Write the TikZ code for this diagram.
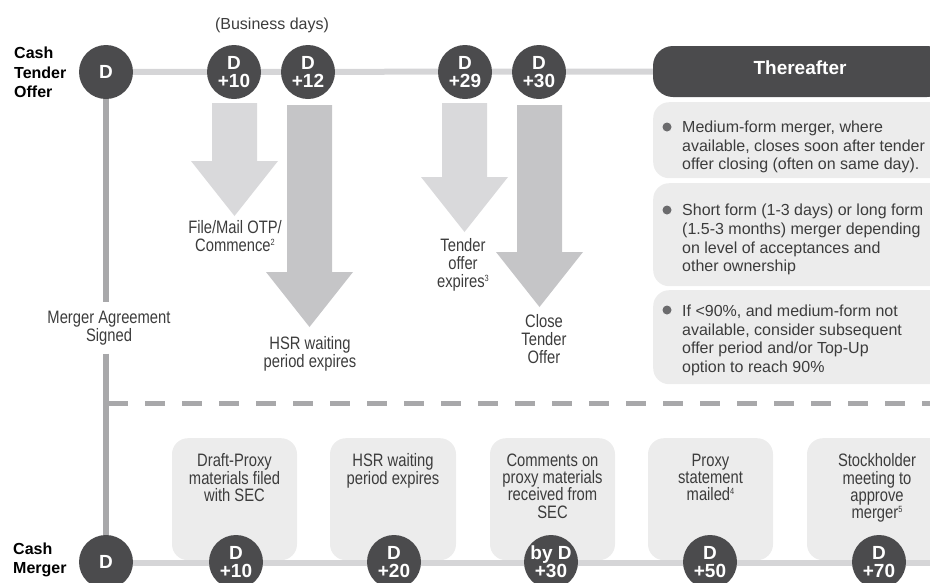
\documentclass[tikz,border=0pt]{standalone}
\usepackage{fontspec}
\setmainfont{Liberation Sans}
\newfontfamily\narrowfont[FakeStretch=0.82]{Liberation Sans}
\usetikzlibrary{backgrounds}
\definecolor{circ}{HTML}{4B4B4D}
\definecolor{tlinec}{HTML}{D5D5D7}
\definecolor{vlinec}{HTML}{A8A8AA}
\definecolor{boxfill}{HTML}{ECECEC}
\definecolor{arrlight}{HTML}{D9D9DB}
\definecolor{arrdark}{HTML}{C5C5C7}
\definecolor{txt}{HTML}{3C3C3C}
\definecolor{dotc}{HTML}{6B6B6D}
\newcommand\blockarrow[5]{%
  \fill[#1] (#2-22.5,#3) -- (#2+22.5,#3) -- (#2+22.5,#4) -- (#2+43.5,#4)
    -- (#2,#5) -- (#2-43.5,#4) -- (#2-22.5,#4) -- cycle;}
\newcommand\fnmark[1]{\raisebox{6pt}{\fontsize{9}{9}\selectfont #1}}
\begin{document}
\begin{tikzpicture}[x=1pt,y=-1pt,
  day/.style={circle, fill=circ, minimum size=54pt, inner sep=0pt, text=white,
    align=center, font=\bfseries\fontsize{19}{18}\selectfont},
  timeline/.style={line width=6pt, draw=tlinec},
  spine/.style={line width=6pt, draw=vlinec},
  sepline/.style={line width=5pt, draw=vlinec, dash pattern=on 20pt off 17pt},
  bulletbox/.style={fill=boxfill, rounded corners=16pt, inner sep=0pt, anchor=north west, minimum width=294pt},
  bullettext/.style={anchor=west, inner sep=0pt, align=left, text=txt,
    font=\fontsize{16}{18.6}\selectfont},
  bdot/.style={circle, fill=dotc, inner sep=0pt, minimum size=9pt},
  lbl/.style={inner sep=0pt, align=center, text=txt, font=\narrowfont\fontsize{18}{18}\selectfont},
  evbox/.style={fill=boxfill, rounded corners=16pt, inner sep=0pt, minimum height=122pt, anchor=north},
  evtext/.style={anchor=north, inner sep=0pt, align=center, text=txt, font=\narrowfont\fontsize{18}{17.3}\selectfont},
  rowlbl/.style={anchor=west, inner sep=0pt, align=left, text=black, font=\bfseries\fontsize{16}{19.5}\selectfont}
]
\path[use as bounding box] (0,0) rectangle (930,582);
\clip (0,0) rectangle (930,582);

% row labels
\node[rowlbl] (cto) at (14,72.5) {Cash\\Tender\\Offer};
\node[rowlbl] (cm) at (13,559.7) {Cash\\Merger};
\node[inner sep=0pt, text=txt, font=\fontsize{16}{18}\selectfont] (bd) at (272,25) {(Business days)};

% top timeline circles
\node[day] (T0) at (106,72) {D};
\node[day] (T10) at (234,72) {D\\+10};
\node[day] (T12) at (308,72) {D\\+12};
\node[day] (T29) at (465,72) {D\\+29};
\node[day] (T30) at (539,72) {D\\+30};

% Thereafter header
\node[fill=circ, rounded corners=20pt, minimum width=294pt, minimum height=51pt, inner sep=0pt,
  text=white, text depth=7pt, font=\bfseries\fontsize{19}{19}\selectfont] (thr) at (800,71.5) {Thereafter};

% bullet boxes
\node[bulletbox, minimum height=76pt] (bb1) at (653,102) {};
\node[bulletbox, minimum height=103pt] (bb2) at (653,183) {};
\node[bulletbox, minimum height=94pt] (bb3) at (653,290) {};
\node[bdot] (d1) at (667,127) {};
\node[bdot] (d2) at (667,210) {};
\node[bdot] (d3) at (667,310) {};
\node[bullettext] (t1) at (682,147) {Medium-form merger, where\\available, closes soon after tender\\offer closing (often on same day).};
\node[bullettext] (t2) at (682,239.7) {Short form (1-3 days) or long form\\(1.5-3 months) merger depending\\on level of acceptances and\\other ownership};
\node[bullettext] (t3) at (682,340.2) {If <90\%, and medium-form not\\available, consider subsequent\\offer period and/or Top-Up\\option to reach 90\%};

% block arrows
\blockarrow{arrlight}{234.5}{103}{161}{216}
\blockarrow{arrdark}{309.5}{105}{272}{327}
\blockarrow{arrlight}{464.5}{103}{177}{232}
\blockarrow{arrdark}{539.5}{105}{252}{307}

% arrow labels
\node[lbl] (l10) at (235,236) {File/Mail OTP/\\Commence\fnmark{2}};
\node[lbl] (l12) at (310,353.4) {HSR waiting\\period expires};
\node[lbl] (l29) at (463,265) {Tender\\offer\\expires\fnmark{3}};
\node[lbl] (l30) at (544,339.5) {Close\\Tender\\Offer};
\node[lbl, inner ysep=8.5pt] (mas) at (109,327.9) {Merger Agreement\\Signed};

% bottom event boxes
\node[evbox, minimum width=125pt] (e1) at (234.5,438) {};
\node[evbox, minimum width=126pt] (e2) at (393,438) {};
\node[evbox, minimum width=125pt] (e3) at (552.5,438) {};
\node[evbox, minimum width=125pt] (e4) at (710.5,438) {};
\node[evbox, minimum width=140pt] (e5) at (877,438) {};
\node[evtext] (et1) at (234.5,453.5) {Draft-Proxy\\materials filed\\with SEC};
\node[evtext] (et2) at (393,453.5) {HSR waiting\\period expires};
\node[evtext] (et3) at (552.5,453.5) {Comments on\\proxy materials\\received from\\SEC};
\node[evtext] (et4) at (710.5,453.5) {Proxy\\statement\\mailed\fnmark{4}};
\node[evtext] (et5) at (877,453.5) {Stockholder\\meeting to\\approve\\merger\fnmark{5}};

\coordinate (bend) at (940,563);
\coordinate (dl) at (108,403);
\coordinate (dr) at (940,403);
\draw[timeline] (106,563) -- (bend);

% bottom timeline circles
\node[day] (B0) at (106,562) {D};
\node[day] (B10) at (236,562) {D\\+10};
\node[day] (B20) at (394,562) {D\\+20};
\node[day] (B30) at (551,562) {by D\\+30};
\node[day] (B50) at (710,562) {D\\+50};
\node[day] (B70) at (879,562) {D\\+70};

\begin{pgfonlayer}{background}
  \draw[timeline] (T0.center) -- (thr.west);
  \draw[spine] (T0.center) -- (T0 |- mas.north);
  \draw[spine] (T0 |- mas.south) -- (B0.center);
  \draw[sepline] (dl) -- (dr);
\end{pgfonlayer}
\end{tikzpicture}
\end{document}
